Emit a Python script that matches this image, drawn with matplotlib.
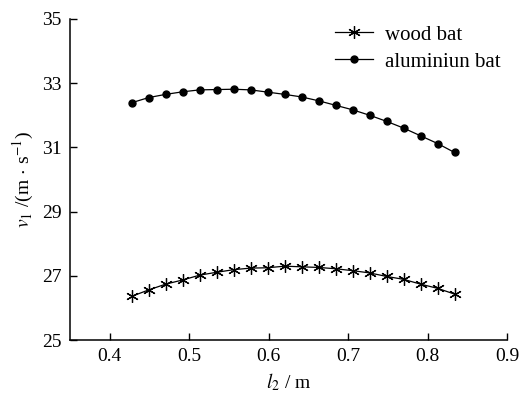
import numpy as np
import matplotlib
matplotlib.use('Agg')
import matplotlib.pyplot as plt

plt.rcParams['font.family'] = ['Liberation Serif', 'DejaVu Serif']
plt.rcParams['mathtext.fontset'] = 'stix'

# bat length l2 (m) and exit speed v1 (m/s)
l2 = np.linspace(0.4276, 0.834, 20)
v_wood = [26.36, 26.56, 26.74, 26.87, 27.02, 27.11, 27.19, 27.24, 27.25, 27.30,
          27.28, 27.26, 27.22, 27.16, 27.09, 26.98, 26.89, 26.74, 26.61, 26.43]
v_alu = [32.39, 32.55, 32.65, 32.73, 32.79, 32.80, 32.81, 32.79, 32.72, 32.65,
         32.57, 32.45, 32.31, 32.17, 32.00, 31.81, 31.60, 31.36, 31.12, 30.84]

xticks = [0.4, 0.5, 0.6, 0.7, 0.8, 0.9]
yticks = [25, 27, 29, 31, 33, 35]

fig = plt.figure(figsize=(5.2, 3.94), dpi=100)
ax = fig.add_axes([0.1346, 0.137, 0.8404, 0.815])

ax.plot(l2, v_wood, color='black', lw=0.9, marker=(6, 2, 0), ms=9, mew=0.9,
        label='wood bat')
ax.plot(l2, v_alu, color='black', lw=0.9, marker='o', ms=5, label='aluminiun bat')

ax.set_xlim(0.35, 0.9)
ax.set_ylim(25, 35)
ax.set_xticks(xticks)
ax.set_yticks(yticks)
ax.set_xticklabels([str(t) for t in xticks])
ax.tick_params(direction='in', length=5, width=1, labelsize=14, pad=6)

ax.spines['top'].set_visible(False)
ax.spines['right'].set_visible(False)
for s in ('left', 'bottom'):
    ax.spines[s].set_linewidth(1.1)

ax.set_xlabel('$l_2$ / m', fontsize=14, labelpad=4)
ax.set_ylabel(r'$v_1$ /(m$\,\cdot\,$s$^{-1}$)', fontsize=14, labelpad=4)

ax.legend(loc='upper right', frameon=False, fontsize=15, handlelength=1.8,
          handletextpad=0.6, labelspacing=0.35, borderpad=0.2,
          borderaxespad=0.1)

fig.savefig('out.png', dpi=100)
